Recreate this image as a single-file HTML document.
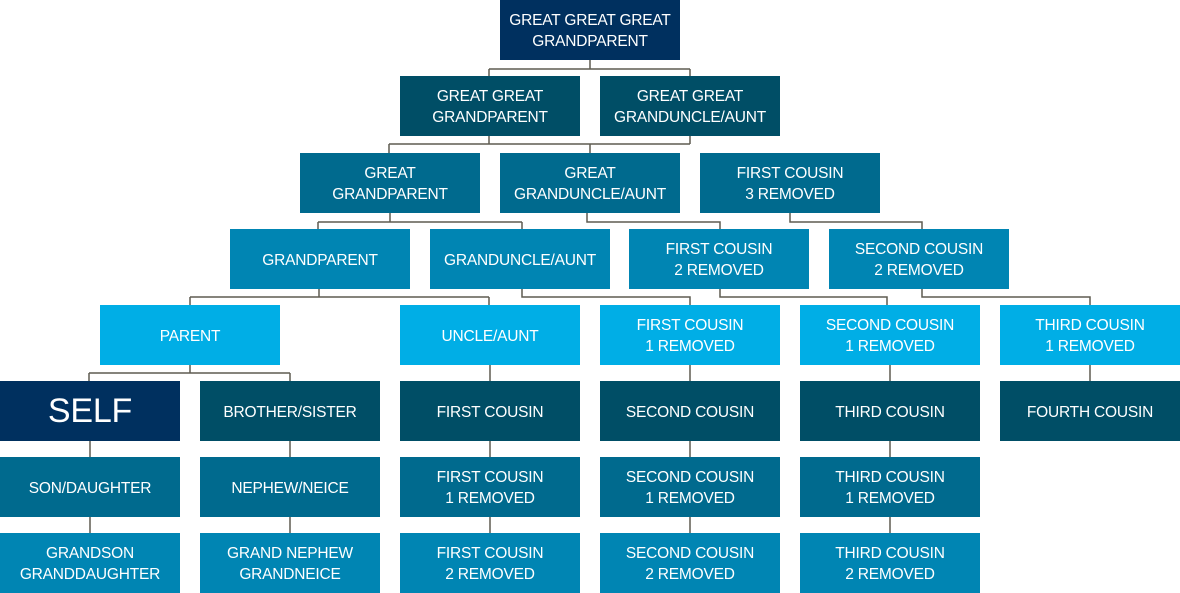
<!DOCTYPE html>
<html><head><meta charset="utf-8"><style>
html,body{margin:0;padding:0;background:#fff;}
body{width:1180px;height:593px;position:relative;overflow:hidden;font-family:"Liberation Sans",sans-serif;}
.b{position:absolute;width:180px;height:60px;color:#fff;display:flex;align-items:center;justify-content:center;text-align:center;font-size:15.5px;line-height:21px;letter-spacing:-0.2px;padding-top:2px;box-sizing:border-box;}
.n{background:#00305f}.d{background:#004e66}.m{background:#006a8e}.l{background:#0085b3}.x{background:#00aee6}
svg{position:absolute;left:0;top:0;}
</style></head><body>
<svg width="1180" height="593"><g stroke="#5f5c50" stroke-width="1.5" fill="none">
<path d="M590 60V69M489 69H690M489 69V76M690 69V76"/>
<path d="M489 136V144M389 144H690M389 144V153M590 144V153M690 136V144"/>
<path d="M390 213V222M318 222H522M318 222V229M522 222V229"/>
<path d="M587 213V222H720V229M790 213V222H922V229"/>
<path d="M319 289V297M190 297H489M190 297V305M489 297V305"/>
<path d="M522 289V297H690V305M720 289V297H887V305M922 289V297H1090V305"/>
<path d="M190 365V373M89 373H290M89 373V381M290 373V381"/>
<path d="M490 365V381M690 365V381M890 365V381M1090 365V381"/>
<path d="M90 441V457M290 441V457M490 441V457M690 441V457M890 441V457"/>
<path d="M90 517V533M290 517V533M490 517V533M690 517V533M890 517V533"/>
</g></svg>
<div class="b n" style="left:500px;top:0">GREAT GREAT GREAT<br>GRANDPARENT</div>
<div class="b d" style="left:400px;top:76px">GREAT GREAT<br>GRANDPARENT</div>
<div class="b d" style="left:600px;top:76px">GREAT GREAT<br>GRANDUNCLE/AUNT</div>
<div class="b m" style="left:300px;top:153px">GREAT<br>GRANDPARENT</div>
<div class="b m" style="left:500px;top:153px">GREAT<br>GRANDUNCLE/AUNT</div>
<div class="b m" style="left:700px;top:153px">FIRST COUSIN<br>3 REMOVED</div>
<div class="b l" style="left:230px;top:229px">GRANDPARENT</div>
<div class="b l" style="left:430px;top:229px">GRANDUNCLE/AUNT</div>
<div class="b l" style="left:629px;top:229px">FIRST COUSIN<br>2 REMOVED</div>
<div class="b l" style="left:829px;top:229px">SECOND COUSIN<br>2 REMOVED</div>
<div class="b x" style="left:100px;top:305px">PARENT</div>
<div class="b x" style="left:400px;top:305px">UNCLE/AUNT</div>
<div class="b x" style="left:600px;top:305px">FIRST COUSIN<br>1 REMOVED</div>
<div class="b x" style="left:800px;top:305px">SECOND COUSIN<br>1 REMOVED</div>
<div class="b x" style="left:1000px;top:305px">THIRD COUSIN<br>1 REMOVED</div>
<div class="b n" style="left:0;top:381px;font-size:34px;line-height:40px;padding:0 0 0 0;">SELF</div>
<div class="b d" style="left:200px;top:381px">BROTHER/SISTER</div>
<div class="b d" style="left:400px;top:381px">FIRST COUSIN</div>
<div class="b d" style="left:600px;top:381px">SECOND COUSIN</div>
<div class="b d" style="left:800px;top:381px">THIRD COUSIN</div>
<div class="b d" style="left:1000px;top:381px">FOURTH COUSIN</div>
<div class="b m" style="left:0;top:457px">SON/DAUGHTER</div>
<div class="b m" style="left:200px;top:457px">NEPHEW/NEICE</div>
<div class="b m" style="left:400px;top:457px">FIRST COUSIN<br>1 REMOVED</div>
<div class="b m" style="left:600px;top:457px">SECOND COUSIN<br>1 REMOVED</div>
<div class="b m" style="left:800px;top:457px">THIRD COUSIN<br>1 REMOVED</div>
<div class="b l" style="left:0;top:533px">GRANDSON<br>GRANDDAUGHTER</div>
<div class="b l" style="left:200px;top:533px">GRAND NEPHEW<br>GRANDNEICE</div>
<div class="b l" style="left:400px;top:533px">FIRST COUSIN<br>2 REMOVED</div>
<div class="b l" style="left:600px;top:533px">SECOND COUSIN<br>2 REMOVED</div>
<div class="b l" style="left:800px;top:533px">THIRD COUSIN<br>2 REMOVED</div>
</body></html>
